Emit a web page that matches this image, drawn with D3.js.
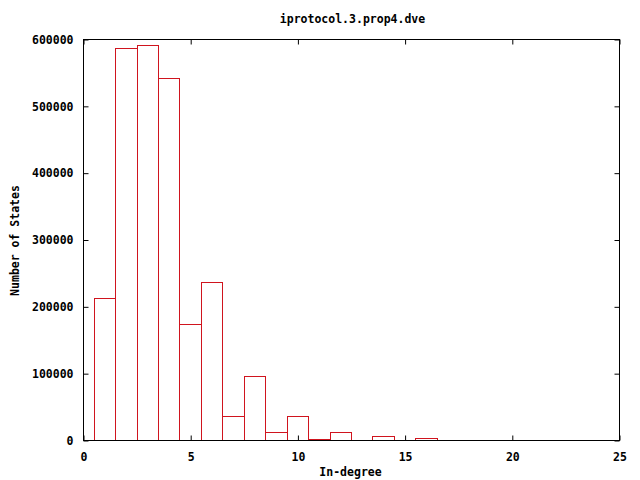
<!DOCTYPE html>
<html>
<head>
<meta charset="utf-8">
<script src="https://cdn.jsdelivr.net/npm/d3@7"></script>
<style>
  body { margin: 0; background: #fff; }
  text { font-family: "DejaVu Sans Mono", "Liberation Mono", monospace; font-weight: bold; font-size: 11.5px; fill: #000; }
</style>
</head>
<body>
<div id="chart"></div>
<script>
// data
var degrees = [1, 2, 3, 4, 5, 6, 7, 8, 9, 10, 11, 12, 14, 16];
var states = [212000, 586000, 591000, 541000, 174000, 236000, 36000, 95500, 11500, 35500, 1500, 11500, 5500, 2500];
var xTicks = [0, 5, 10, 15, 20, 25];
var yTicks = [0, 100000, 200000, 300000, 400000, 500000, 600000];

var margin = {top: 39, right: 21, bottom: 40, left: 83},
    width = 640 - margin.left - margin.right,
    height = 480 - margin.top - margin.bottom;

var svg = d3.select("#chart")
  .append("svg")
    .attr("width", 640)
    .attr("height", 480)
  .append("g")
    .attr("transform", "translate(" + (margin.left + 0.5) + "," + (margin.top + 0.5) + ")");

var x = d3.scaleLinear().domain([0, 25]).range([0, width]);
var y = d3.scaleLinear().domain([0, 600000]).range([height, 0]);

var tick = 5;

// bars (boxes of width 1 centred on each degree)
svg.append("g")
  .selectAll("rect")
  .data(degrees)
  .enter().append("rect")
    .attr("x", function(d) { return Math.round(x(d - 0.5)); })
    .attr("width", function(d) { return Math.round(x(d + 0.5)) - Math.round(x(d - 0.5)); })
    .attr("y", function(d, i) { return Math.round(y(states[i])); })
    .attr("height", function(d, i) { return height - Math.round(y(states[i])); })
    .attr("fill", "none")
    .attr("stroke", "#d0141e")
    .attr("stroke-width", 1);

// x axis (ticks inward, mirrored on top)
var xAxis = svg.append("g")
  .attr("transform", "translate(0," + height + ")")
  .call(d3.axisBottom(x).tickValues(xTicks).tickSize(-tick).tickSizeOuter(0).tickPadding(12));
svg.append("g")
  .call(d3.axisTop(x).tickValues(xTicks).tickSize(-tick).tickSizeOuter(0).tickFormat(""));

// y axis (ticks inward, mirrored on right)
svg.append("g")
  .call(d3.axisLeft(y).tickValues(yTicks).tickSize(-tick).tickSizeOuter(0).tickPadding(10).tickFormat(d3.format("d")));
svg.append("g")
  .attr("transform", "translate(" + width + ",0)")
  .call(d3.axisRight(y).tickValues(yTicks).tickSize(-tick).tickSizeOuter(0).tickFormat(""));

svg.selectAll(".domain").remove();
svg.selectAll(".tick line").attr("stroke", "#000");
svg.selectAll(".tick text")
  .attr("font-family", null).attr("font-size", null)
  .style("fill", "#000");

// border
svg.append("rect")
  .attr("x", 0).attr("y", 0)
  .attr("width", width).attr("height", height)
  .attr("fill", "none")
  .attr("stroke", "#000");

// title and labels
svg.append("text")
  .attr("x", 352 - margin.left)
  .attr("y", 22 - margin.top)
  .style("text-anchor", "middle")
  .text("iprotocol.3.prop4.dve");

svg.append("text")
  .attr("x", 350 - margin.left)
  .attr("y", 475 - margin.top)
  .style("text-anchor", "middle")
  .text("In-degree");

svg.append("text")
  .attr("transform", "rotate(-90)")
  .attr("x", -(240 - margin.top))
  .attr("y", 18 - margin.left)
  .style("text-anchor", "middle")
  .text("Number of States");
</script>
</body>
</html>
